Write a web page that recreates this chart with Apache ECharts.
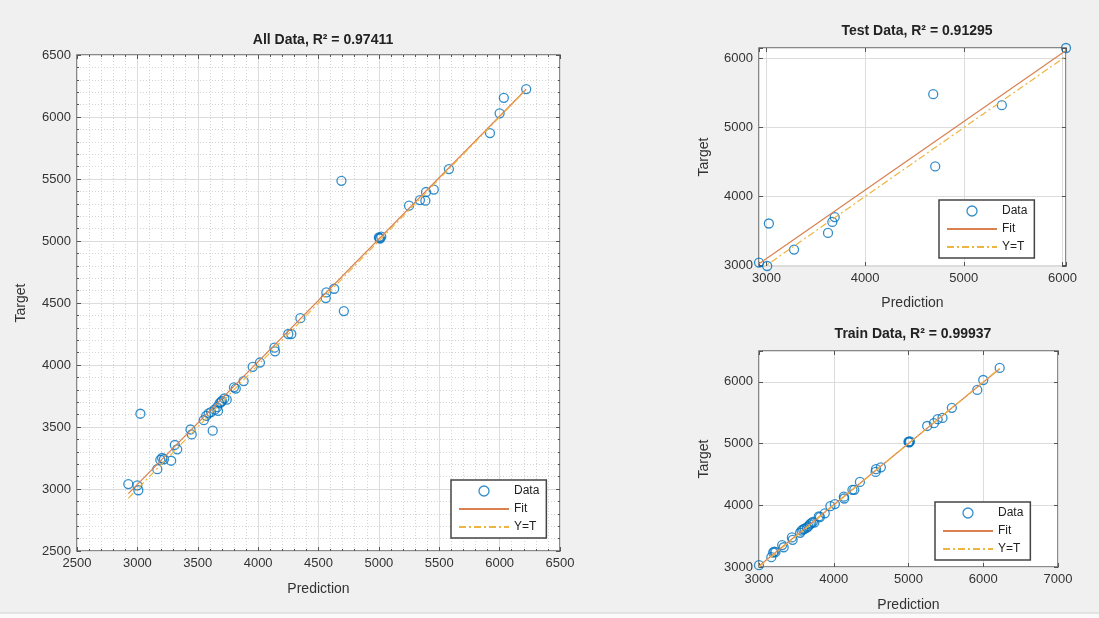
<!DOCTYPE html>
<html><head><meta charset="utf-8">
<script src="https://cdn.jsdelivr.net/npm/echarts@6/dist/echarts.min.js"></script>
<style>html,body{margin:0;padding:0;background:#f0f0f0;}#c{width:1099px;height:618px;}</style>
</head><body><div id="c"></div>
<script>
// ---------- data ----------
const testPrediction = [2925, 3008, 3025, 3280, 3624, 3668, 3692, 4690, 4710, 5385, 6035];
const testTarget     = [3040, 2990, 3607, 3228, 3470, 3630, 3700, 5485, 4435, 5325, 6155];

const trainPrediction = [3000, 3165, 3190, 3205, 3220, 3310, 3330, 3440, 3450, 3550, 3570, 3590, 3610, 3640,
  3660, 3680, 3700, 3720, 3740, 3800, 3815, 3880, 3955, 4015, 4135, 4140, 4250, 4275, 4350, 4560, 4565, 4630,
  5000, 5005, 5010, 5020, 5250, 5340, 5390, 5455, 5580, 5920, 6000, 6220];
const trainTarget = [3030, 3160, 3235, 3250, 3240, 3355, 3320, 3480, 3440, 3555, 3590, 3610, 3620, 3640,
  3660, 3690, 3710, 3730, 3720, 3820, 3810, 3870, 3985, 4020, 4140, 4110, 4250, 4250, 4378, 4540, 4585, 4615,
  5030, 5025, 5020, 5035, 5285, 5330, 5395, 5415, 5580, 5870, 6030, 6225];

const titles = ['All Data, R\u00B2 = 0.97411', 'Test Data, R\u00B2 = 0.91295', 'Train Data, R\u00B2 = 0.99937'];
const legendNames = ['Data', 'Fit', 'Y=T'];
const xName = 'Prediction';
const yName = 'Target';

// ---------- derived ----------
const allPrediction = trainPrediction.concat(testPrediction);
const allTarget = trainTarget.concat(testTarget);

function pairs(xs, ys) { return xs.map((x, i) => [x, ys[i]]); }
function fitLine(xs, ys) {
  const n = xs.length;
  const mx = xs.reduce((a, b) => a + b, 0) / n;
  const my = ys.reduce((a, b) => a + b, 0) / n;
  let sxy = 0, sxx = 0;
  for (let i = 0; i < n; i++) { sxy += (xs[i] - mx) * (ys[i] - my); sxx += (xs[i] - mx) ** 2; }
  const m = sxy / sxx, b = my - m * mx;
  const x0 = Math.min(...xs), x1 = Math.max(...xs);
  return [[x0, m * x0 + b], [x1, m * x1 + b]];
}
function ytLine(xs) {
  const x0 = Math.min(...xs), x1 = Math.max(...xs);
  return [[x0, x0], [x1, x1]];
}
// test panel uses tight limits (data extent)
const testXMin = Math.min(...testPrediction), testXMax = Math.max(...testPrediction);
const testYMin = Math.min(...testTarget), testYMax = Math.max(...testTarget);

const FONT = 'Liberation Sans, Arial, sans-serif';
const BLUE = '#0072BD', FITC = '#D9804F', YTC = '#EDB440';

function seriesFor(idx, xs, ys) {
  return [
    { name: 'Data', type: 'scatter', xAxisIndex: idx, yAxisIndex: idx, data: pairs(xs, ys),
      symbol: 'circle', symbolSize: 9,
      itemStyle: { color: 'rgba(0,0,0,0)', borderColor: BLUE, borderWidth: 1.3 }, z: 2 },
    { name: 'Fit', type: 'line', xAxisIndex: idx, yAxisIndex: idx, data: fitLine(xs, ys),
      symbol: 'none', lineStyle: { color: FITC, width: 1.2 }, itemStyle: { color: FITC }, z: 3 },
    { name: 'Y=T', type: 'line', xAxisIndex: idx, yAxisIndex: idx, data: ytLine(xs),
      symbol: 'none', lineStyle: { color: YTC, width: 1.2, type: [7, 3, 2, 3] }, itemStyle: { color: YTC }, z: 4 }
  ];
}

const plain = v => String(v);
const thousandsOnly = v => (v % 1000 === 0 ? String(v) : '');
const labelStyle = { color: '#333', fontSize: 13, fontFamily: FONT, margin: 6, formatter: plain };
const nameStyle = { color: '#333', fontSize: 14, fontFamily: FONT };
const gridLine = { show: true, lineStyle: { color: '#dcdcdc', width: 1 } };
const tickStyle = { show: true, inside: true, length: 4, lineStyle: { color: '#555' } };

function xAx(idx, opts) {
  return Object.assign({
    type: 'value', gridIndex: idx, name: xName, nameLocation: 'middle', nameGap: 31,
    nameTextStyle: nameStyle, axisLabel: labelStyle,
    axisLine: { show: false }, axisTick: tickStyle, splitLine: gridLine
  }, opts);
}
function yAx(idx, opts) {
  return Object.assign({
    type: 'value', gridIndex: idx, name: yName, nameLocation: 'middle', nameGap: 48, nameRotate: 90,
    nameTextStyle: nameStyle, axisLabel: labelStyle,
    axisLine: { show: false }, axisTick: tickStyle, splitLine: gridLine
  }, opts);
}
// mirror axes (box ticks on top / right, as in the reference)
function mirror(kind, idx, opts) {
  return Object.assign({
    type: 'value', gridIndex: idx, position: kind === 'x' ? 'top' : 'right',
    axisLabel: { show: false }, axisLine: { show: false }, splitLine: { show: false },
    axisTick: tickStyle
  }, opts);
}
const minorGrid = { show: true, lineStyle: { color: '#d4d4d4', type: [1, 2], width: 1 } };
const minorTk = { show: true, splitNumber: 5, length: 2 };

const gridBase = { show: true, backgroundColor: '#ffffff', borderColor: '#666666', borderWidth: 1.5 };

function legendAt(left, top) {
  return {
    data: [
      { name: 'Data', itemStyle: { color: 'rgba(0,0,0,0)', borderColor: BLUE, borderWidth: 1.3 } },
      { name: 'Fit', itemStyle: { opacity: 0 } },
      { name: 'Y=T', itemStyle: { opacity: 0 } }
    ],
    orient: 'vertical', left: left, top: top,
    backgroundColor: '#fff', borderColor: '#444', borderWidth: 1.5,
    padding: [5, 7, 5, 7], itemWidth: 50, itemHeight: 10, itemGap: 6,
    textStyle: { fontSize: 12, color: '#222', fontFamily: FONT }, selectedMode: false
  };
}

const titleStyle = { fontSize: 14, fontWeight: 'bold', color: '#222', fontFamily: FONT };

const option = {
  animation: false,
  backgroundColor: '#f0f0f0',
  title: [
    { text: titles[0], left: 318, top: 28, textAlign: 'center', textStyle: titleStyle },
    { text: titles[1], left: 912, top: 19, textAlign: 'center', textStyle: titleStyle },
    { text: titles[2], left: 908, top: 322, textAlign: 'center', textStyle: titleStyle }
  ],
  grid: [
    Object.assign({ left: 77, top: 55, width: 483, height: 496 }, gridBase),
    Object.assign({ left: 759, top: 48, width: 307, height: 218 }, gridBase),
    Object.assign({ left: 759, top: 351, width: 299, height: 216 }, gridBase)
  ],
  xAxis: [
    xAx(0, { min: 2500, max: 6500, interval: 500, minorTick: minorTk, minorSplitLine: minorGrid }),
    xAx(1, { min: testXMin, max: testXMax, splitNumber: 3, nameGap: 30, axisLabel: Object.assign({}, labelStyle, { formatter: thousandsOnly }) }),
    xAx(2, { min: 3000, max: 7000, interval: 1000 }),
    mirror('x', 0, { min: 2500, max: 6500, interval: 500, minorTick: minorTk }),
    mirror('x', 1, { min: testXMin, max: testXMax, splitNumber: 3 }),
    mirror('x', 2, { min: 3000, max: 7000, interval: 1000 })
  ],
  yAxis: [
    yAx(0, { min: 2500, max: 6500, interval: 500, nameGap: 49, minorTick: minorTk, minorSplitLine: minorGrid }),
    yAx(1, { min: testYMin, max: testYMax, splitNumber: 3, axisLabel: Object.assign({}, labelStyle, { formatter: thousandsOnly }) }),
    yAx(2, { min: 3000, max: 6500, interval: 1000, axisLabel: Object.assign({}, labelStyle, { formatter: thousandsOnly }) }),
    mirror('y', 0, { min: 2500, max: 6500, interval: 500, minorTick: minorTk }),
    mirror('y', 1, { min: testYMin, max: testYMax, splitNumber: 3 }),
    mirror('y', 2, { min: 3000, max: 6500, interval: 1000 })
  ],
  legend: [legendAt(451, 480), legendAt(939, 200), legendAt(935, 502)],
  series: [].concat(
    seriesFor(0, allPrediction, allTarget),
    seriesFor(1, testPrediction, testTarget),
    seriesFor(2, trainPrediction, trainTarget)
  ),
  graphic: [
    { type: 'rect', shape: { x: 0, y: 613, width: 1099, height: 5 }, style: { fill: '#fafafa' }, silent: true },
    { type: 'line', shape: { x1: 0, y1: 613, x2: 1099, y2: 613 }, style: { stroke: '#d0d0d0', lineWidth: 1 }, silent: true }
  ]
};

const chart = echarts.init(document.getElementById('c'), null, { renderer: 'canvas' });
chart.setOption(option);
</script>
</body></html>
